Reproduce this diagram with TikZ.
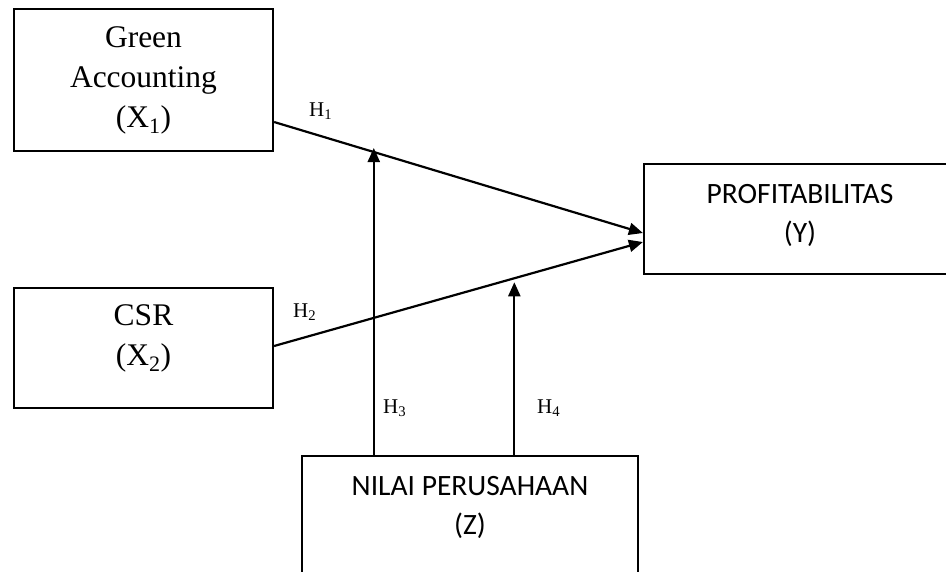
\documentclass[tikz,border=0pt]{standalone}
\usepackage{fontspec}
\setmainfont{Liberation Serif}
\newfontfamily\calibri{Carlito}
\usetikzlibrary{arrows.meta,calc}
\begin{document}
\begin{tikzpicture}[x=1pt,y=-1pt,
  box/.style={draw, line width=2.2pt, inner sep=0pt, align=center},
  txt/.style={align=center, anchor=north, inner sep=0pt},
  serifbig/.style={font=\fontsize{31.5}{40}\selectfont},
  calbig/.style={font=\calibri\fontsize{29.5}{39}\selectfont},
  conn/.style={line width=2.2pt, -{Triangle[length=14pt,width=12pt]}},
  hlab/.style={font=\fontsize{21}{24}\selectfont, anchor=base west, inner sep=0pt}]
\useasboundingbox (0,0) rectangle (946,571);
\clip (0,0) rectangle (946,571);

% boxes
\node[box, serifbig, minimum width=259pt, minimum height=142pt] (ga) at (143.5,80)
  {Green\\Accounting\\(X\textsubscript{1})};
\node[box, minimum width=259pt, minimum height=120pt] (csr) at (143.5,348) {};
\node[txt, serifbig] (csrt) at ($(csr.north)+(0,18)$) {CSR\\(X\textsubscript{2})};
\node[box, minimum width=312pt, minimum height=110pt] (pr) at (800,219) {};
\node[txt, calbig] (prt) at ($(pr.north)+(0,21)$) {PROFITABILITAS\\(Y)};
\node[box, anchor=north, minimum width=336pt, minimum height=160pt] (z) at (470,455) {};
\node[txt, calbig] (zt) at ($(z.north)+(0,21)$) {NILAI PERUSAHAAN\\(Z)};

% connector end points on the box borders
\coordinate (s1) at ([yshift=-42pt]ga.east);
\coordinate (e1) at ([yshift=-14pt]pr.west);
\coordinate (s2) at ([yshift=2pt]csr.east);
\coordinate (e2) at ([yshift=-23pt]pr.west);
\coordinate (m1) at ($(s1)!0.2703!(e1)$);
\coordinate (m2) at ($(s2)!0.6514!(e2)$);

\draw[conn] (s1) -- (e1);
\draw[conn] (s2) -- (e2);
\draw[conn] (z.north -| m1) -- ([yshift=4pt]m1);
\draw[conn] (z.north -| m2) -- ([yshift=-4pt]m2);

% labels
\node[hlab] (h1) at (309,116) {H\textsubscript{1}};
\node[hlab] (h2) at (293,317) {H\textsubscript{2}};
\node[hlab] (h3) at (383,413) {H\textsubscript{3}};
\node[hlab] (h4) at (537,413) {H\textsubscript{4}};
\end{tikzpicture}
\end{document}
